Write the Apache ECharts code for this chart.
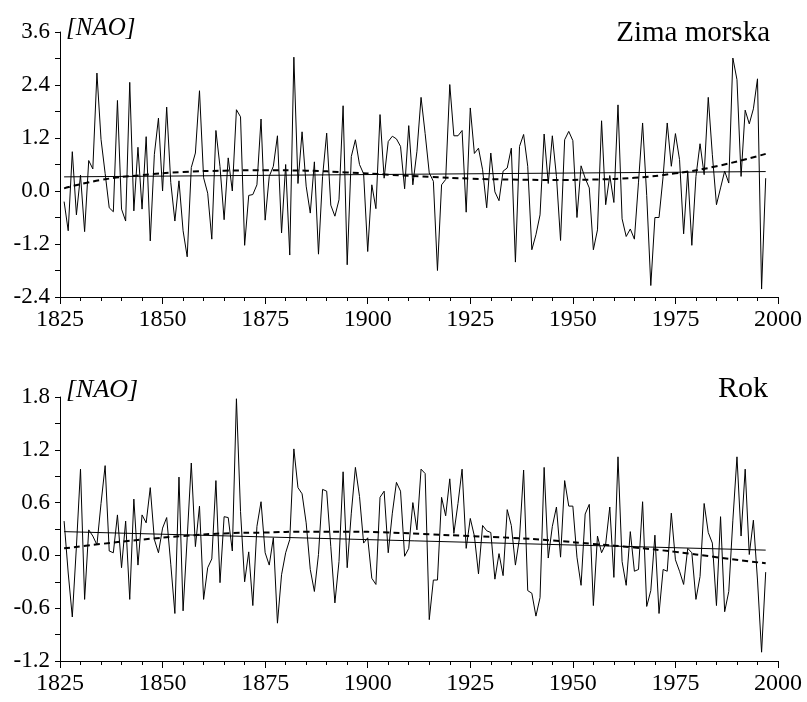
<!DOCTYPE html>
<html>
<head>
<meta charset="utf-8">
<script src="https://cdn.jsdelivr.net/npm/echarts@6/dist/echarts.min.js"></script>
<style>
html, body { margin: 0; padding: 0; background: #fff; }
#chart { width: 807px; height: 702px; }
</style>
</head>
<body>
<div id="chart"></div>
<script>
// lata 1826-1997
const firstYear = 1826;

// NAO zima morska
const winterNao = [
  -0.24, -0.90, 0.89, -0.54, 0.36, -0.92, 0.69, 0.50, 2.67, 1.17,
  0.40, -0.38, -0.47, 2.05, -0.41, -0.68, 2.46, -0.45, 0.99, -0.41,
  1.23, -1.13, 0.83, 1.65, 0.00, 1.90, 0.19, -0.68, 0.23, -0.90,
  -1.49, 0.53, 0.86, 2.27, 0.30, -0.05, -1.09, 1.37, 0.55, -0.65,
  0.75, 0.00, 1.84, 1.68, -1.23, -0.10, -0.08, 0.14, 1.63, -0.66,
  0.33, 0.56, 1.25, -0.95, 0.60, -1.45, 3.03, 0.17, 1.34, 0.11,
  -0.50, 0.66, -1.43, 0.33, 1.31, -0.32, -0.57, -0.20, 1.93, -1.67,
  0.78, 1.16, 0.60, 0.39, -1.37, 0.14, -0.40, 1.73, 0.29, 1.12,
  1.24, 1.18, 1.01, 0.05, 1.48, 0.14, 0.90, 2.12, 1.30, 0.41,
  0.22, -1.80, 0.14, 0.26, 2.41, 1.25, 1.25, 1.37, -0.48, 1.88,
  0.85, 0.97, 0.48, -0.38, 0.86, -0.02, -0.22, 0.45, 0.52, 0.97,
  -1.61, 1.01, 1.28, 0.56, -1.33, -0.99, -0.54, 1.29, 0.17, 1.25,
  0.33, -1.12, 1.16, 1.35, 1.14, -0.60, 0.57, 0.29, 0.07, -1.33,
  -0.88, 1.59, -0.31, 0.35, -0.26, 1.95, -0.63, -1.03, -0.86, -1.09,
  0.20, 1.54, -0.10, -2.14, -0.60, -0.60, 0.33, 1.54, 0.56, 1.30,
  0.71, -0.97, 0.45, -1.23, 0.33, 1.07, 0.37, 2.12, 0.82, -0.31,
  0.07, 0.45, 0.18, 3.01, 2.52, 0.33, 1.83, 1.52, 1.86, 2.54,
  -2.22, 0.29
];

// NAO rok
const yearNao = [
  0.39, -0.20, -0.70, 0.10, 0.98, -0.50, 0.29, 0.22, 0.12, 0.59,
  1.02, 0.05, 0.03, 0.46, -0.14, 0.39, -0.50, 0.64, -0.11, 0.46,
  0.37, 0.77, 0.18, 0.03, 0.31, 0.43, -0.10, -0.66, 0.89, -0.63,
  0.20, 1.05, 0.10, 0.56, -0.50, -0.14, -0.04, 0.85, -0.31, 0.44,
  0.43, 0.05, 1.78, 0.50, -0.30, 0.04, -0.57, 0.33, 0.61, 0.03,
  -0.11, 0.20, -0.77, -0.22, 0.03, 0.18, 1.21, 0.77, 0.70, 0.37,
  -0.16, -0.41, 0.01, 0.75, 0.73, 0.10, -0.54, -0.07, 0.95, -0.14,
  0.48, 1.00, 0.67, 0.14, 0.20, -0.26, -0.33, 0.66, 0.73, 0.03,
  0.48, 0.83, 0.73, -0.01, 0.08, 0.60, 0.29, 0.98, 0.93, -0.73,
  -0.28, -0.28, 0.66, 0.45, 0.87, 0.25, 0.59, 0.98, 0.08, 0.42,
  0.22, -0.21, 0.34, 0.28, 0.26, -0.27, 0.02, -0.23, 0.52, 0.34,
  -0.11, 0.20, 0.97, -0.40, -0.43, -0.69, -0.48, 1.00, -0.03, 0.33,
  0.55, -0.02, 0.85, 0.56, 0.56, -0.02, -0.34, 0.47, 0.58, -0.57,
  0.22, 0.03, 0.13, 0.55, -0.25, 1.12, -0.07, -0.34, 0.27, -0.18,
  -0.16, 0.61, -0.58, -0.40, 0.23, -0.66, -0.16, -0.18, 0.48, -0.05,
  -0.18, -0.33, 0.08, 0.03, -0.50, -0.24, 0.59, 0.26, 0.14, -0.57,
  0.44, -0.64, -0.41, 0.40, 1.12, 0.22, 0.98, 0.01, 0.40, -0.28,
  -1.10, -0.19
];

// trend liniowy (początek, koniec)
const winterLinear = [[1826, 0.32], [1997, 0.44]];
const yearLinear = [[1826, 0.27], [1997, 0.06]];

// trend wielomianowy (odczyt z wykresu)
const trendYears = [1826, 1835, 1845, 1855, 1865, 1875, 1885, 1895, 1905, 1915, 1925, 1935, 1945, 1955, 1965, 1975, 1985, 1997];
const winterPoly = [0.06, 0.25, 0.36, 0.43, 0.46, 0.47, 0.46, 0.42, 0.37, 0.32, 0.28, 0.26, 0.25, 0.26, 0.30, 0.40, 0.56, 0.84];
const yearPoly = [0.08, 0.13, 0.18, 0.22, 0.25, 0.26, 0.27, 0.27, 0.26, 0.24, 0.22, 0.20, 0.17, 0.13, 0.09, 0.04, -0.02, -0.09];

const pairs = (vals) => vals.map((v, i) => [firstYear + i, v]);
const trendPairs = (vals) => vals.map((v, i) => [trendYears[i], v]);

const font = 'Liberation Serif';

function xAxisFor(gridIndex) {
  return {
    type: 'value', gridIndex: gridIndex,
    min: 1825, max: 2000, interval: 25,
    axisLine: { show: true, onZero: false, lineStyle: { color: '#000', width: 1 } },
    axisTick: { show: true, length: 7, lineStyle: { color: '#000' } },
    minorTick: { show: true, splitNumber: 5, length: 4, lineStyle: { color: '#000' } },
    splitLine: { show: false },
    axisLabel: { color: '#000', fontFamily: font, fontSize: 24, margin: 11, formatter: (v) => String(v) }
  };
}

function yAxisFor(gridIndex, min, max, interval) {
  return {
    type: 'value', gridIndex: gridIndex,
    min: min, max: max, interval: interval,
    axisLine: { show: true, lineStyle: { color: '#000', width: 1 } },
    axisTick: { show: true, length: 5, lineStyle: { color: '#000' } },
    minorTick: { show: true, splitNumber: 2, length: 5, lineStyle: { color: '#000' } },
    splitLine: { show: false },
    axisLabel: {
      color: '#000', fontFamily: font, fontSize: 23, margin: 10,
      formatter: (v) => v.toFixed(1)
    }
  };
}

const dataLine = { color: '#000', width: 1 };
const dashLine = { color: '#000', width: 2, type: [6, 4] };

var myChart = echarts.init(document.getElementById('chart'));
var option = {
  animation: false,
  backgroundColor: '#fff',
  grid: [
    { left: 60, top: 32, width: 718, height: 265 },
    { left: 60, top: 397, width: 718, height: 264 }
  ],
  xAxis: [xAxisFor(0), xAxisFor(1)],
  yAxis: [yAxisFor(0, -2.4, 3.6, 1.2), yAxisFor(1, -1.2, 1.8, 0.6)],
  graphic: [
    { type: 'text', x: 66, y: 28, style: { text: '[NAO]', font: 'italic 25px "Liberation Serif"', fill: '#000', verticalAlign: 'middle' } },
    { type: 'text', x: 770, y: 33, style: { text: 'Zima morska', font: '29px "Liberation Serif"', fill: '#000', textAlign: 'right', verticalAlign: 'middle' } },
    { type: 'text', x: 66, y: 390, style: { text: '[NAO]', font: 'italic 26px "Liberation Serif"', fill: '#000', verticalAlign: 'middle' } },
    { type: 'text', x: 768, y: 389, style: { text: 'Rok', font: '30px "Liberation Serif"', fill: '#000', textAlign: 'right', verticalAlign: 'middle' } }
  ],
  series: [
    { type: 'line', xAxisIndex: 0, yAxisIndex: 0, data: pairs(winterNao), showSymbol: false, lineStyle: dataLine },
    { type: 'line', xAxisIndex: 0, yAxisIndex: 0, data: winterLinear, showSymbol: false, lineStyle: dataLine },
    { type: 'line', xAxisIndex: 0, yAxisIndex: 0, data: trendPairs(winterPoly), smooth: true, showSymbol: false, lineStyle: dashLine },
    { type: 'line', xAxisIndex: 1, yAxisIndex: 1, data: pairs(yearNao), showSymbol: false, lineStyle: dataLine },
    { type: 'line', xAxisIndex: 1, yAxisIndex: 1, data: yearLinear, showSymbol: false, lineStyle: dataLine },
    { type: 'line', xAxisIndex: 1, yAxisIndex: 1, data: trendPairs(yearPoly), smooth: true, showSymbol: false, lineStyle: dashLine }
  ]
};
myChart.setOption(option);
</script>
</body>
</html>
